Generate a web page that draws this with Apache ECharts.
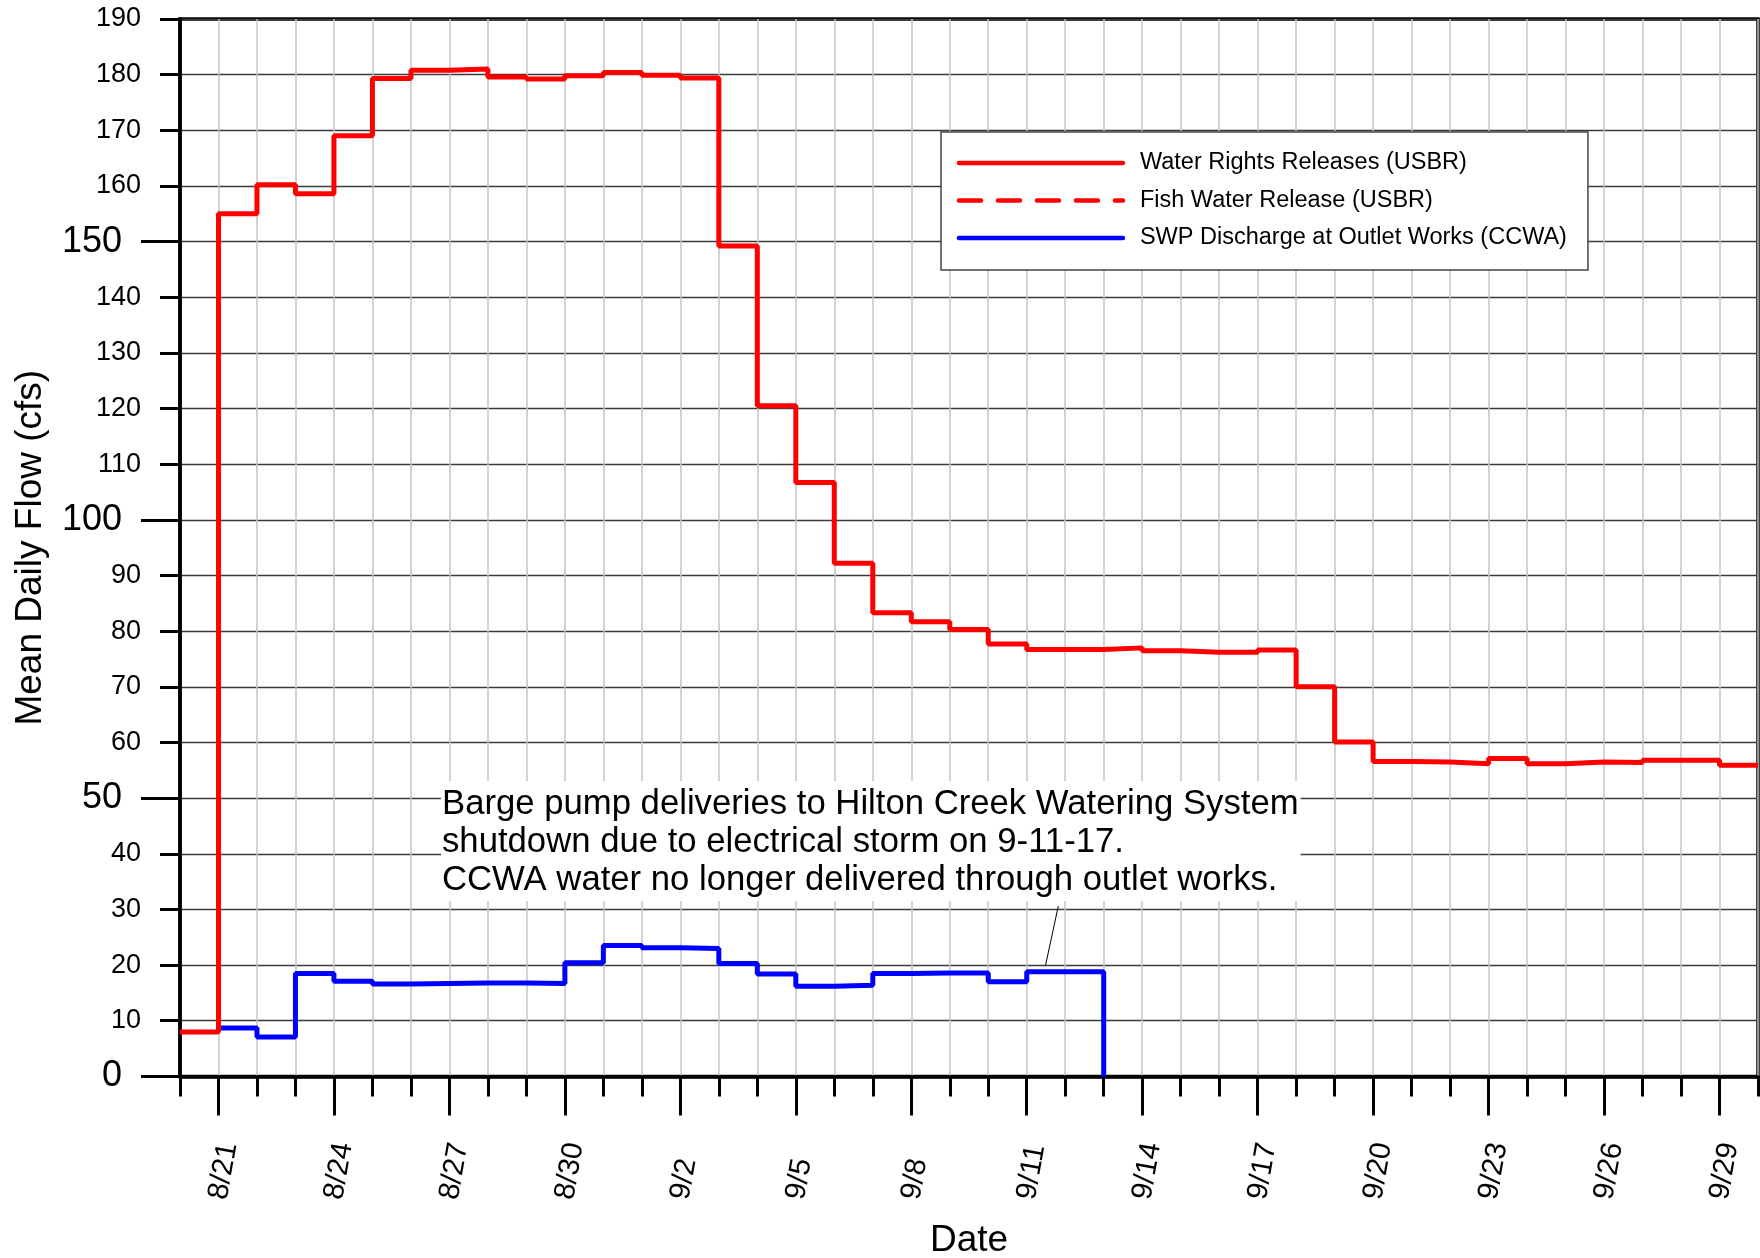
<!DOCTYPE html>
<html>
<head>
<meta charset="utf-8">
<script src="https://cdn.jsdelivr.net/npm/echarts@6.0.0/dist/echarts.min.js"></script>
<style>
html, body { margin: 0; padding: 0; background: #fff; }
#view { width: 1760px; height: 1258px; }
</style>
</head>
<body>
<div id="view"></div>
<script>
// days on the x axis, 8/20 .. 9/30
var dates = ['8/20', '8/21', '8/22', '8/23', '8/24', '8/25', '8/26', '8/27', '8/28', '8/29', '8/30', '8/31',
    '9/1', '9/2', '9/3', '9/4', '9/5', '9/6', '9/7', '9/8', '9/9', '9/10', '9/11', '9/12', '9/13', '9/14',
    '9/15', '9/16', '9/17', '9/18', '9/19', '9/20', '9/21', '9/22', '9/23', '9/24', '9/25', '9/26', '9/27',
    '9/28', '9/29', '9/30'];
var labelDates = ['8/21', '8/24', '8/27', '8/30', '9/2', '9/5', '9/8', '9/11', '9/14', '9/17', '9/20', '9/23', '9/26', '9/29'];
var yLabelsSmall = [10, 20, 30, 40, 60, 70, 80, 90, 110, 120, 130, 140, 160, 170, 180, 190];
var yLabelsBig = [0, 50, 100, 150];

// mean daily flow, one value per day starting 8/20
var waterRights = [8.0, 155.0, 160.2, 158.6, 169.0, 179.3, 180.8, 181.0, 179.6, 179.2, 179.8, 180.4,
    179.9, 179.4, 149.2, 120.5, 106.7, 92.2, 83.3, 81.7, 80.3, 77.7, 76.7, 76.7, 77.0, 76.5,
    76.2, 76.2, 76.6, 70.0, 60.1, 56.6, 56.5, 56.2, 57.1, 56.2, 56.5, 56.4, 56.8, 56.8, 55.9];
// SWP discharge, starting 8/21, ends at 0 on 9/13
var swpStart = '8/21';
var swpDischarge = [8.7, 7.1, 18.5, 17.1, 16.6, 16.7, 16.8, 16.8, 16.7, 20.4, 23.5, 23.1, 23.0,
    20.3, 18.4, 16.2, 16.4, 18.5, 18.6, 18.6, 17.0, 18.8, 18.8, 0];

var noteLines = ['Barge pump deliveries to Hilton Creek Watering System',
    'shutdown due to electrical storm on 9-11-17.',
    'CCWA water no longer delivered through outlet works.'];
var leaderFrom = [22.49, 20.0];
var leaderTo = [22.82, 30.6];

var FONT = '"Liberation Sans", Arial, Helvetica, sans-serif';

function steps(start, vals, close) {
    var pts = vals.map(function (v, i) { return [start + i, v]; });
    if (close) pts.push([start + vals.length, vals[vals.length - 1]]);
    return pts;
}

var labelIdx = labelDates.map(function (d) { return dates.indexOf(d); });

var myChart = echarts.init(document.getElementById('view'));
var option = {
    animation: false,
    backgroundColor: '#fff',
    grid: {
        left: 180, right: 2, top: 19, bottom: 181.6,
        outerBoundsMode: 'none',
        show: true, borderColor: '#000', borderWidth: 3.5, backgroundColor: 'transparent'
    },
    legend: {
        orient: 'vertical',
        left: 941, top: 132,
        padding: [19, 21, 20, 15.7],
        itemWidth: 164, itemHeight: 24, itemGap: 13.5,
        backgroundColor: '#fff',
        borderColor: '#444', borderWidth: 1.5,
        selectedMode: false,
        itemStyle: { opacity: 0 },
        lineStyle: { width: 4.5, cap: 'round' },
        textStyle: { fontFamily: FONT, fontSize: 23.5, color: '#000', lineHeight: 24, padding: [0, 0, 0, 12] },
        data: ['Water Rights Releases (USBR)', 'Fish Water Release (USBR)', 'SWP Discharge at Outlet Works (CCWA)']
    },
    xAxis: [{
        type: 'value', min: 0, max: dates.length - 1, interval: 1, position: 'bottom',
        axisLine: { lineStyle: { color: '#000', width: 3.5 } },
        axisTick: { length: 20, lineStyle: { color: '#000', width: 3 } },
        axisLabel: { show: false },
        splitLine: { show: true, lineStyle: { color: '#c4c4c4', width: 1.5 } }
    }, {
        type: 'value', min: 0, max: dates.length - 1, interval: 1, position: 'bottom',
        axisLine: { show: false },
        axisTick: {
            length: 39, lineStyle: { color: '#000', width: 3 },
            customValues: labelIdx
        },
        axisLabel: {
            customValues: labelIdx,
            formatter: function (v) { return dates[v]; },
            rotate: 80, align: 'left', verticalAlign: 'middle', margin: 123,
            padding: [0, 0, 10, 0],
            fontSize: 29.5, fontFamily: FONT, color: '#000'
        },
        splitLine: { show: false },
        name: 'Date', nameLocation: 'middle', nameGap: 146,
        nameTextStyle: { fontSize: 37, fontFamily: FONT, color: '#000' }
    }],
    yAxis: [{
        type: 'value', min: 0, max: 190, interval: 10, position: 'left',
        axisLine: { show: true, lineStyle: { color: '#000', width: 3.5 } },
        axisTick: { show: true, length: 20, lineStyle: { color: '#000', width: 3 } },
        axisLabel: { customValues: yLabelsSmall, margin: 39, fontSize: 27, fontFamily: FONT, color: '#000' },
        splitLine: { show: true, lineStyle: { color: '#3a3a3a', width: 1.3 } },
        name: 'Mean Daily Flow (cfs)', nameLocation: 'middle', nameGap: 131,
        nameTextStyle: { fontSize: 37, fontFamily: FONT, color: '#000' }
    }, {
        type: 'value', min: 0, max: 190, interval: 10, position: 'left',
        axisLine: { show: false },
        axisTick: { show: true, length: 39, customValues: yLabelsBig, lineStyle: { color: '#000', width: 3 } },
        axisLabel: { customValues: yLabelsBig, margin: 58, fontSize: 36, fontFamily: FONT, color: '#000' },
        splitLine: { show: false }
    }],
    series: [{
        name: 'SWP Discharge at Outlet Works (CCWA)',
        type: 'line', step: 'end', symbol: 'none', z: 3,
        data: steps(dates.indexOf(swpStart), swpDischarge, false),
        lineStyle: { color: '#0000ff', width: 5 },
        itemStyle: { color: '#0000ff' },
        markLine: {
            silent: true, symbol: 'none', label: { show: false },
            lineStyle: { color: '#000', width: 1, type: 'solid' },
            data: [[{ coord: leaderFrom }, { coord: leaderTo }]]
        }
    }, {
        name: 'Fish Water Release (USBR)',
        type: 'line', symbol: 'none', data: [],
        lineStyle: { color: '#ff0000', width: 5, type: [22, 17] },
        itemStyle: { color: '#ff0000' }
    }, {
        name: 'Water Rights Releases (USBR)',
        type: 'line', step: 'end', symbol: 'none', z: 4,
        data: steps(0, waterRights, true),
        lineStyle: { color: '#ff0000', width: 5 },
        itemStyle: { color: '#ff0000' }
    }],
    graphic: [{
        type: 'text', left: 441, top: 781, z: 5,
        style: {
            text: noteLines.join('\n'),
            fontSize: 34.7, fontFamily: FONT, fill: '#000',
            lineHeight: 38, backgroundColor: '#fff', padding: [4, 2, 2, 1]
        }
    }]
};
myChart.setOption(option);
</script>
</body>
</html>
